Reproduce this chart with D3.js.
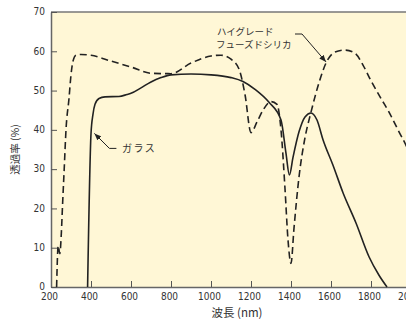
<!DOCTYPE html>
<html>
<head>
<meta charset="utf-8">
<script src="https://cdn.jsdelivr.net/npm/d3@7"></script>
<style>
  body { margin: 0; background: #fff; }
  svg { display: block; }
  .tick text { font-family: "Liberation Sans Narrow", "Arial Narrow", "DejaVu Sans Condensed", sans-serif; font-size: 10px; fill: #333; }
  .jp { font-family: "Noto Sans CJK JP", sans-serif; fill: #333; }
</style>
</head>
<body>
<div id="chart"></div>
<script>
// wavelength (nm) / transmittance (%)
const glassWl = [383, 400, 410, 420, 440, 470, 540, 580, 600, 650, 700, 750, 800, 900, 1000, 1100, 1160, 1220, 1290, 1350, 1375, 1392, 1410, 1440, 1470, 1500, 1530, 1560, 1610, 1660, 1725, 1790, 1840, 1880];
const glassT = [0, 39, 44, 46.5, 48, 48.4, 48.5, 49, 49.3, 50.7, 52.2, 53.3, 54, 54.2, 54, 53.3, 52.3, 50.3, 47, 42.5, 34, 28.5, 33, 39.5, 43.3, 44.3, 42.5, 37.5, 31, 24, 16.3, 7.7, 3, 0];

const silicaWl = [228, 236, 244, 252, 257, 266, 275, 290, 300, 310, 325, 350, 400, 500, 600, 700, 800, 900, 1000, 1050, 1100, 1140, 1170, 1200, 1230, 1260, 1300, 1330, 1350, 1370, 1385, 1400, 1415, 1440, 1470, 1500, 1540, 1575, 1620, 1670, 1720, 1760, 1800, 1850, 1890, 1940, 1980, 2000];
const silicaT = [0, 10.5, 8.5, 14, 20, 30, 40, 48, 54, 57.5, 59, 59.2, 59, 57.5, 56, 54.4, 54.3, 57, 58.8, 59, 58, 55.5, 49, 39.3, 42, 45, 47.2, 46.5, 40, 25, 12, 6, 15, 28, 38, 44.5, 52, 57, 59.8, 60.3, 59.5, 56.5, 52.5, 48, 44.5, 39.5, 35.5, 33];

const xTicks = [200, 400, 600, 800, 1000, 1200, 1400, 1600, 1800, 2000];
const yTicks = [0, 10, 20, 30, 40, 50, 60, 70];

const width = 406, height = 320;
const margin = { left: 51, top: 12, bottom: 33 };
const plotRight = 411; // the frame runs past the right edge and gets clipped

const svg = d3.select("#chart").append("svg")
  .attr("width", width)
  .attr("height", height);

const x = d3.scaleLinear().domain([200, 2000]).range([margin.left, plotRight]);
const y = d3.scaleLinear().domain([0, 70]).range([height - margin.bottom, margin.top]);

// plot background
svg.append("rect")
  .attr("x", x(200))
  .attr("y", y(70))
  .attr("width", x(2000) - x(200))
  .attr("height", y(0) - y(70))
  .attr("fill", "#fff7d6");

// top border
svg.append("line")
  .attr("x1", x(200)).attr("x2", x(2000))
  .attr("y1", y(70)).attr("y2", y(70))
  .attr("stroke", "#777").attr("stroke-width", 1.5);

// axes with inward ticks
const xAxis = svg.append("g")
  .attr("transform", `translate(0,${y(0)})`)
  .call(d3.axisBottom(x).tickValues(xTicks).tickFormat(d3.format("d"))
    .tickSize(-6).tickPadding(6).tickSizeOuter(0));

const yAxis = svg.append("g")
  .attr("transform", `translate(${x(200)},0)`)
  .call(d3.axisLeft(y).tickValues(yTicks).tickSize(-6).tickPadding(6).tickSizeOuter(0));

[xAxis, yAxis].forEach((ax) => {
  ax.select(".domain").attr("stroke", "#666").attr("stroke-width", 1.5);
  ax.selectAll(".tick line").attr("stroke", "#555");
});
xAxis.selectAll(".tick text").attr("dx", "-2");
yAxis.selectAll(".tick text").attr("dy", "0.28em");

const line = (xs, ys) => d3.line()
  .x((d, i) => x(xs[i]))
  .y((d, i) => y(ys[i]))
  .curve(d3.curveMonotoneX)(xs);

// fused silica (dashed)
svg.append("path")
  .attr("d", line(silicaWl, silicaT))
  .attr("fill", "none")
  .attr("stroke", "#222")
  .attr("stroke-width", 1.6)
  .attr("stroke-dasharray", "7,4");

// glass (solid)
svg.append("path")
  .attr("d", line(glassWl, glassT))
  .attr("fill", "none")
  .attr("stroke", "#222")
  .attr("stroke-width", 1.6);

// arrowhead
svg.append("defs").append("marker")
  .attr("id", "arrow")
  .attr("viewBox", "0 0 10 10")
  .attr("refX", 10).attr("refY", 5)
  .attr("markerWidth", 7).attr("markerHeight", 7)
  .attr("markerUnits", "userSpaceOnUse")
  .attr("orient", "auto")
  .append("path")
  .attr("d", "M0,1 L10,5 L0,9 Z")
  .attr("fill", "#222");

// labels with leader lines
const silicaTip = [1575, 57.3];
svg.append("polyline")
  .attr("points", [[x(silicaTip[0]) - 31, 34], [x(silicaTip[0]) - 24, 34], [x(silicaTip[0]), y(silicaTip[1])]].join(" "))
  .attr("fill", "none").attr("stroke", "#222").attr("stroke-width", 1)
  .attr("marker-end", "url(#arrow)");

svg.append("text").attr("class", "jp")
  .attr("x", 217).attr("y", 35)
  .attr("font-size", 9.5)
  .text("ハイグレード");
svg.append("text").attr("class", "jp")
  .attr("x", 216).attr("y", 48)
  .attr("font-size", 9.5)
  .text("フューズドシリカ");

const glassTip = [417, 39.1];
svg.append("polyline")
  .attr("points", [[x(glassTip[0]) + 22, y(glassTip[1]) + 15], [x(glassTip[0]) + 15, y(glassTip[1]) + 15], [x(glassTip[0]), y(glassTip[1])]].join(" "))
  .attr("fill", "none").attr("stroke", "#222").attr("stroke-width", 1)
  .attr("marker-end", "url(#arrow)");

svg.append("text").attr("class", "jp")
  .attr("x", 122).attr("y", 152)
  .attr("font-size", 10)
  .attr("letter-spacing", 1.5)
  .text("ガラス");

// axis titles
svg.append("text").attr("class", "jp")
  .attr("x", 237).attr("y", 317)
  .attr("text-anchor", "middle")
  .attr("font-size", 11.5)
  .text("波長 (nm)");

svg.append("text").attr("class", "jp")
  .attr("transform", `translate(19,${(y(0) + y(70)) / 2}) rotate(-90)`)
  .attr("text-anchor", "middle")
  .attr("font-size", 10.5)
  .text("透過率 (%)");
</script>
</body>
</html>
